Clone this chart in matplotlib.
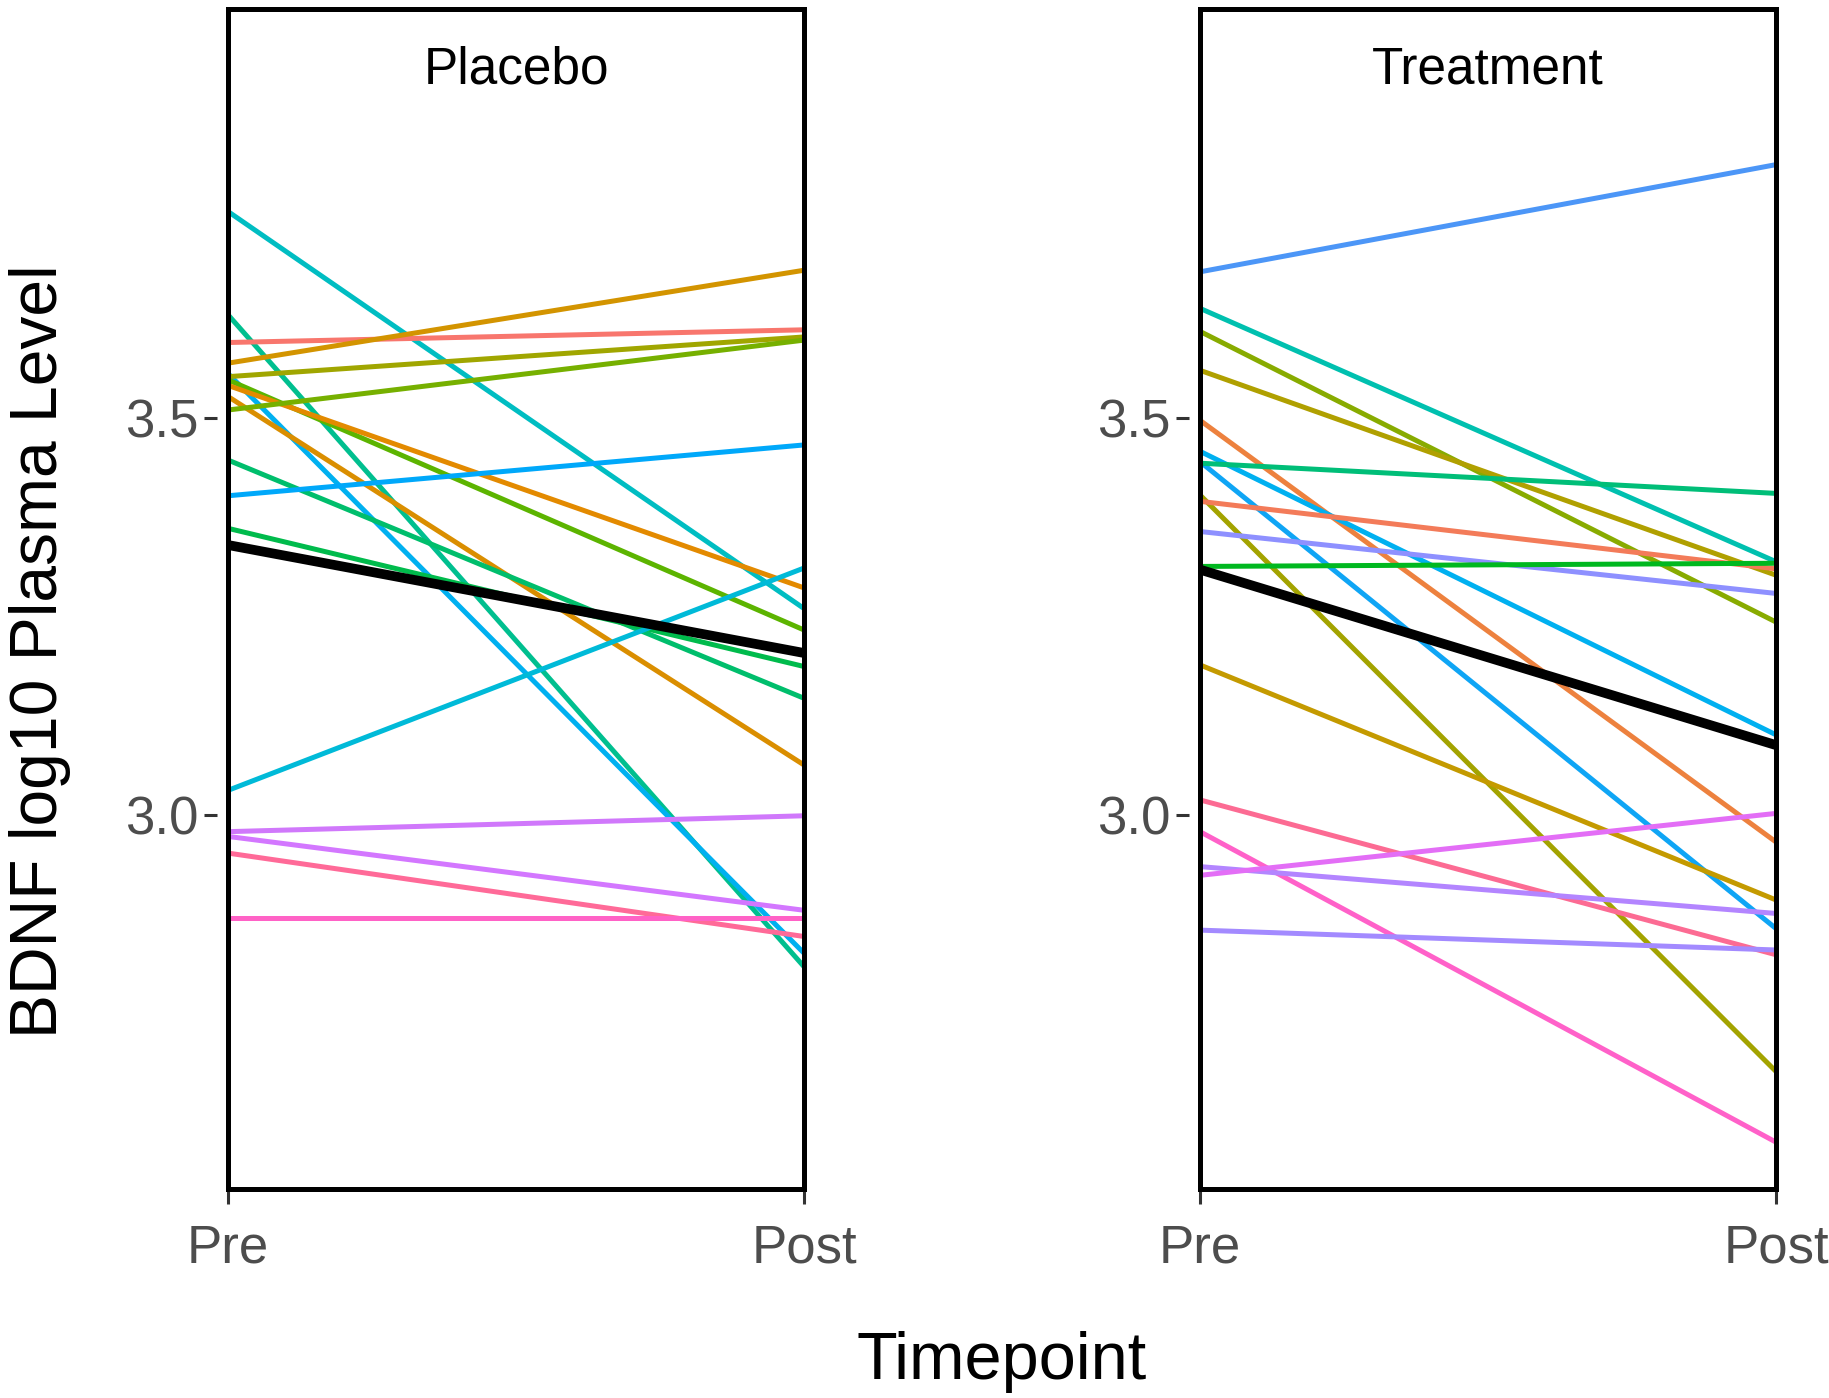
import matplotlib
matplotlib.use("Agg")
import matplotlib.pyplot as plt
from matplotlib.patches import Rectangle

plt.rcParams['font.family'] = ['Liberation Sans', 'DejaVu Sans']

timepoints = ["Pre", "Post"]
panels = ["Placebo", "Treatment"]

# Placebo subjects
placebo_pre = [3.760, 3.630, 3.595, 3.569, 3.556, 3.552, 3.548, 3.541, 3.527,
               3.510, 3.447, 3.402, 3.361, 3.031, 2.979, 2.973, 2.952, 2.870]
placebo_post = [3.260, 2.809, 3.611, 3.686, 2.826, 3.602, 3.233, 3.286, 3.063,
                3.598, 3.147, 3.466, 3.187, 3.311, 2.999, 2.880, 2.847, 2.870]
placebo_colors = ["#00BDC2", "#00BF8F", "#F8766D", "#D39400", "#00B0F0", "#A0A600",
                  "#5CB400", "#E38A00", "#DA8E00", "#76B000", "#00BE6C", "#00A8FA",
                  "#00BB4C", "#00BAD8", "#D078FB", "#D377FF", "#FF6A98", "#FF62C6"]
placebo_mean = [3.340, 3.204]

# Treatment subjects
treat_pre = [3.684, 3.638, 3.609, 3.560, 3.497, 3.458, 3.445, 3.443, 3.403,
             3.395, 3.357, 3.313, 3.189, 3.019, 2.979, 2.935, 2.924, 2.855]
treat_post = [3.819, 3.319, 3.243, 3.302, 2.966, 3.101, 2.857, 3.405, 2.677,
              3.310, 3.279, 3.317, 2.893, 2.824, 2.588, 2.876, 3.002, 2.830]
treat_colors = ["#4C96F7", "#00C0AF", "#88AB00", "#B0A000", "#ED813E", "#00B0F0",
                "#0FA5F5", "#00BE78", "#A3A300", "#F37B59", "#8E90FF", "#00B81F",
                "#C49A00", "#FC6B93", "#FF61C9", "#B385FF", "#E36EF6", "#A38AFF"]
treat_mean = [3.309, 3.088]

yticks = [3.0, 3.5]
ytick_labels = ["3.0", "3.5"]
ylim = (2.529, 4.015)

W, H = 1829, 1398
fig = plt.figure(figsize=(W / 100, H / 100), dpi=100)

def add_panel(left_px, title, pre, post, colors, mean):
    ax = fig.add_axes([left_px / W, (H - 1189) / H, 576 / W, 1180 / H])
    x = [0, 1]
    for a, b, c in zip(pre, post, colors):
        ax.plot(x, [a, b], color=c, lw=3.6, solid_capstyle='butt', zorder=2)
    ax.plot(x, mean, color='black', lw=7.0, solid_capstyle='butt', zorder=3)
    ax.set_xlim(0, 1)
    ax.set_ylim(*ylim)
    ax.set_xticks(x)
    ax.set_xticklabels(timepoints)
    ax.set_yticks(yticks)
    ax.set_yticklabels(ytick_labels)
    for s in ax.spines.values():
        s.set_visible(False)
    ax.spines['left'].set_position(('outward', 8))
    ax.tick_params(axis='y', direction='out', length=9.5, width=2.2, color='#333333',
                   pad=4, labelsize=38, labelcolor='#4D4D4D')
    ax.tick_params(axis='x', direction='out', length=10.5, width=2.2, color='#333333',
                   pad=14, labelsize=38, labelcolor='#4D4D4D')
    ax.add_patch(Rectangle((0, 0), 1, 1, transform=ax.transAxes, fill=False,
                           lw=3.6, ec='black', clip_on=False, zorder=10))
    ax.text(0.5, 0.937, title, transform=ax.transAxes, ha='center', va='baseline',
            fontsize=37, color='black')
    return ax

add_panel(228, panels[0], placebo_pre, placebo_post, placebo_colors, placebo_mean)
add_panel(1200, panels[1], treat_pre, treat_post, treat_colors, treat_mean)

fig.text(9 / W, 0.534, "BDNF log10 Plasma Level", rotation=90, ha='left', va='center',
         fontsize=47.5, color='black')
fig.text(1002 / W, (H - 1379) / H, "Timepoint", ha='center', va='baseline',
         fontsize=48, color='black')

fig.savefig("out.png", dpi=100, facecolor='white')
